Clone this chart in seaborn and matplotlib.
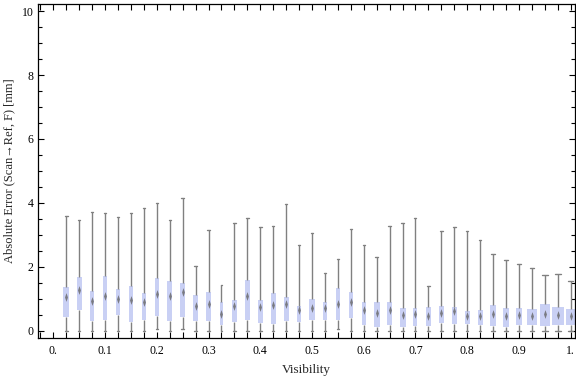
import numpy as np
import pandas as pd
import seaborn as sns
import matplotlib
matplotlib.use("Agg")
from matplotlib import pyplot as plt
from matplotlib.ticker import MultipleLocator, FixedLocator, FixedFormatter

# Visibility bins (box centres)
visibility = [0.025, 0.05, 0.075, 0.1, 0.125, 0.15, 0.175, 0.2, 0.225, 0.25,
              0.275, 0.3, 0.325, 0.35, 0.375, 0.4, 0.425, 0.45, 0.475, 0.5,
              0.525, 0.55, 0.575, 0.6, 0.625, 0.65, 0.675, 0.7, 0.725, 0.75,
              0.775, 0.8, 0.825, 0.85, 0.875, 0.9, 0.925, 0.95, 0.975, 1.0]

# five-number summaries [mm]
err_min = [0.0, 0.0, 0.0, 0.0, 0.0, 0.0, 0.0, 0.04, 0.0, 0.06,
           0.0, 0.0, 0.0, 0.0, 0.0, 0.0, 0.0, 0.0, 0.0, 0.0,
           0.0, 0.06, 0.0, 0.0, 0.0, 0.0, 0.0, 0.0, 0.0, 0.0,
           0.0, 0.0, 0.0, 0.0, 0.0, 0.0, 0.0, 0.0, 0.0, 0.0]
err_q1 = [0.43, 0.64, 0.30, 0.32, 0.48, 0.27, 0.32, 0.46, 0.30, 0.43,
          0.30, 0.30, 0.18, 0.27, 0.32, 0.24, 0.21, 0.31, 0.27, 0.33,
          0.33, 0.33, 0.40, 0.18, 0.11, 0.18, 0.11, 0.15, 0.15, 0.24,
          0.21, 0.21, 0.18, 0.15, 0.11, 0.18, 0.18, 0.15, 0.18, 0.18]
err_median = [1.05, 1.26, 0.93, 1.07, 1.00, 0.97, 0.90, 1.14, 1.08, 1.21,
              0.76, 0.82, 0.53, 0.78, 1.07, 0.74, 0.79, 0.83, 0.66, 0.71,
              0.72, 0.82, 0.90, 0.64, 0.56, 0.64, 0.50, 0.53, 0.47, 0.55,
              0.61, 0.47, 0.47, 0.53, 0.47, 0.50, 0.46, 0.51, 0.49, 0.45]
err_q3 = [1.35, 1.67, 1.23, 1.70, 1.29, 1.39, 1.19, 1.64, 1.54, 1.48,
          1.10, 1.20, 0.89, 0.95, 1.57, 0.95, 1.17, 1.04, 0.76, 0.98,
          0.89, 1.32, 1.22, 0.89, 0.89, 0.89, 0.70, 0.70, 0.73, 0.76,
          0.73, 0.60, 0.64, 0.79, 0.70, 0.70, 0.67, 0.82, 0.73, 0.67]
err_max = [3.60, 3.47, 3.72, 3.69, 3.56, 3.67, 3.85, 3.98, 3.47, 4.14,
           2.03, 3.16, 1.44, 3.36, 3.53, 3.25, 3.28, 3.97, 2.69, 3.07,
           1.81, 2.25, 3.19, 2.69, 2.31, 3.28, 3.38, 3.53, 1.41, 3.13,
           3.25, 3.13, 2.84, 2.41, 2.22, 2.09, 1.97, 1.75, 1.78, 1.55]

# box widths (visibility units), wider boxes towards high visibility
box_width = [0.0116, 0.0097, 0.0064, 0.0091, 0.0077, 0.0091, 0.0083, 0.0083, 0.0091, 0.0091,
             0.0097, 0.0083, 0.0071, 0.0091, 0.0097, 0.0097, 0.0097, 0.0097, 0.0083, 0.0097,
             0.0077, 0.0077, 0.0077, 0.0077, 0.0116, 0.0097, 0.0116, 0.0077, 0.0097, 0.0097,
             0.0097, 0.0097, 0.0091, 0.0129, 0.0129, 0.0129, 0.0180, 0.0206, 0.0226, 0.0200]

x_ticks = [0.0, 0.1, 0.2, 0.3, 0.4, 0.5, 0.6, 0.7, 0.8, 0.9, 1.0]
x_tick_labels = ["0.", "0.1", "0.2", "0.3", "0.4", "0.5", "0.6", "0.7", "0.8", "0.9", "1."]

sns.set_style("ticks")
plt.rcParams["font.family"] = ["Liberation Serif", "DejaVu Serif"]

fig = plt.figure(figsize=(5.76, 3.77), dpi=100)
ax = fig.add_axes([0.066, 0.104, 0.932, 0.885])

box_color = "#C9D0F4"
line_grey = "#808080"

for i in range(len(visibility)):
    # five values -> quartiles land exactly on q1/median/q3, whiskers on min/max
    df = pd.DataFrame({
        "visibility": [visibility[i]] * 5,
        "error": [err_min[i], err_q1[i], err_median[i], err_q3[i], err_max[i]],
    })
    sns.boxplot(data=df, x="visibility", y="error", native_scale=True,
                width=box_width[i], whis=(0, 100), color=box_color, saturation=1,
                linecolor=line_grey, linewidth=1.0, fliersize=0, ax=ax,
                boxprops=dict(edgecolor="none"),
                medianprops=dict(linewidth=0, alpha=0))

# slim vertical diamond for the median, like the Mathematica chart
slim_diamond = [(0, -3), (1, 0), (0, 3), (-1, 0), (0, -3)]
med_df = pd.DataFrame({"visibility": visibility, "error": err_median})
sns.scatterplot(data=med_df, x="visibility", y="error", marker=slim_diamond, s=40,
                color="#666666", alpha=0.8, linewidth=0, ax=ax, zorder=5)

ax.set_xlim(-0.0295, 1.008)
ax.set_ylim(-0.225, 10.22)

ax.xaxis.set_major_locator(FixedLocator(x_ticks))
ax.xaxis.set_major_formatter(FixedFormatter(x_tick_labels))
ax.xaxis.set_minor_locator(MultipleLocator(0.025))
ax.yaxis.set_major_locator(MultipleLocator(2))
ax.yaxis.set_minor_locator(MultipleLocator(0.5))

ax.tick_params(axis="both", which="both", direction="in", top=True, right=True,
               colors="black", labelsize=8.5, width=0.8)
ax.tick_params(axis="x", which="both", length=4, pad=5)
ax.tick_params(axis="y", which="major", length=4.5, pad=3)
ax.tick_params(axis="y", which="minor", length=2.7)

for spine in ax.spines.values():
    spine.set_visible(True)
    spine.set_color("black")
    spine.set_linewidth(0.9)

ax.set_xlabel("Visibility", fontsize=9.5, labelpad=5)
ax.set_ylabel("Absolute Error (Scan\u2192Ref, F) [mm]", fontsize=9, labelpad=5)

fig.savefig("out.png", dpi=100)
